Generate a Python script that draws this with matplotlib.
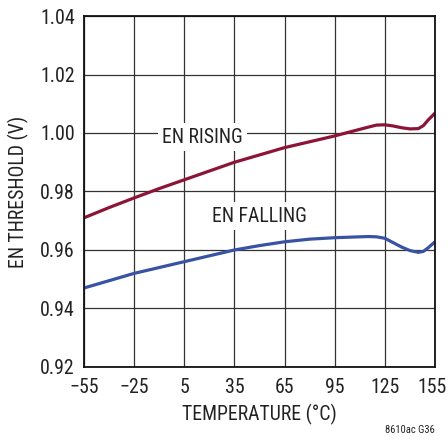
import matplotlib
matplotlib.use("Agg")
import matplotlib.pyplot as plt
from matplotlib import font_manager
from matplotlib.transforms import ScaledTranslation

# values
temps = [-55, -40, -25, -10, 5, 20, 35, 50, 65, 80, 95, 105, 115, 120,
         125, 130, 135, 140, 145, 148, 151, 155]
en_rising = [0.971, 0.9745, 0.9778, 0.981, 0.984, 0.987, 0.990, 0.9925,
             0.995, 0.997, 0.999, 1.0005, 1.002, 1.0027, 1.0028, 1.0024,
             1.0018, 1.0014, 1.0015, 1.0025, 1.0045, 1.0068]
en_falling = [0.947, 0.9495, 0.952, 0.954, 0.956, 0.958, 0.960, 0.9615,
              0.9628, 0.9637, 0.9642, 0.9644, 0.9646, 0.9645, 0.964,
              0.9625, 0.961, 0.9598, 0.9592, 0.9595, 0.9608, 0.9628]
x_ticks = [-55, -25, 5, 35, 65, 95, 125, 155]
x_labels = ["\u221255", "\u221225", "5", "35", "65", "95", "125", "155"]
y_ticks = [0.92, 0.94, 0.96, 0.98, 1.00, 1.02, 1.04]

RED = "#8C1537"
BLUE = "#3953A4"
INK = "#222222"

# pick a condensed sans if one is around
available = {(f.name, f.stretch) for f in font_manager.fontManager.ttflist}
names = {n for n, _ in available}
font = None
stretch = "normal"
for cand in ["Liberation Sans Narrow", "Roboto Condensed", "Open Sans Condensed",
             "Noto Sans Condensed", "Arial Narrow"]:
    if cand in names:
        font = cand
        break
if font is None:
    for n, s in available:
        if n in ("Noto Sans", "Open Sans", "Roboto", "DejaVu Sans") and s in (
                "condensed", "semi-condensed", "extra-condensed", 75, 87, 62):
            font, stretch = n, s
            break
if font is None:
    font = "Liberation Sans"
    scale = 0.85
else:
    scale = 1.0

plt.rcParams["font.family"] = [font, "DejaVu Sans"]
plt.rcParams["font.stretch"] = stretch

fs = 14.2 * scale

fig = plt.figure(figsize=(4.48, 4.40), dpi=100)
ax = fig.add_axes([0.1875, 0.166, 0.7835, 0.7976])

ax.plot(temps, en_rising, color=RED, linewidth=2.3, solid_capstyle="butt", zorder=3)
ax.plot(temps, en_falling, color=BLUE, linewidth=2.3, solid_capstyle="butt", zorder=3)

ax.set_xlim(-55, 155)
ax.set_ylim(0.92, 1.04)
ax.set_xticks(x_ticks)
ax.set_xticklabels(x_labels)
ax.set_yticks(y_ticks)
ax.set_yticklabels([f"{v:.2f}" for v in y_ticks])
ax.tick_params(length=0, labelsize=14.3 * scale, colors=INK)
ax.tick_params(axis="x", pad=8)
ax.tick_params(axis="y", pad=6.5)
ax.grid(True, color="#333333", linewidth=0.9)
ax.set_axisbelow(True)
for spine in ax.spines.values():
    spine.set_color("#111111")
    spine.set_linewidth(1.3)
    spine.set_zorder(4)

# nudge the last x label in so it stays inside the canvas
last = ax.get_xticklabels()[-1]
last.set_transform(last.get_transform() + ScaledTranslation(-3 / 100, 0, fig.dpi_scale_trans))

ax.set_xlabel("TEMPERATURE (\u00b0C)", fontsize=fs, color=INK, labelpad=5)
ax.set_ylabel("EN THRESHOLD (V)", fontsize=fs, color=INK, labelpad=8)

box = dict(facecolor="white", edgecolor="none", pad=3)
ax.text(16, 0.9986, "EN RISING", fontsize=fs, color=INK,
        ha="center", va="center", bbox=box, zorder=2)
ax.text(50, 0.9716, "EN FALLING", fontsize=fs, color=INK,
        ha="center", va="center", bbox=box, zorder=2)

fig.text(0.971, 0.012, "8610ac G36", fontsize=7.6 * scale, color=INK, ha="right", va="bottom")

fig.savefig("out.png", dpi=100)
